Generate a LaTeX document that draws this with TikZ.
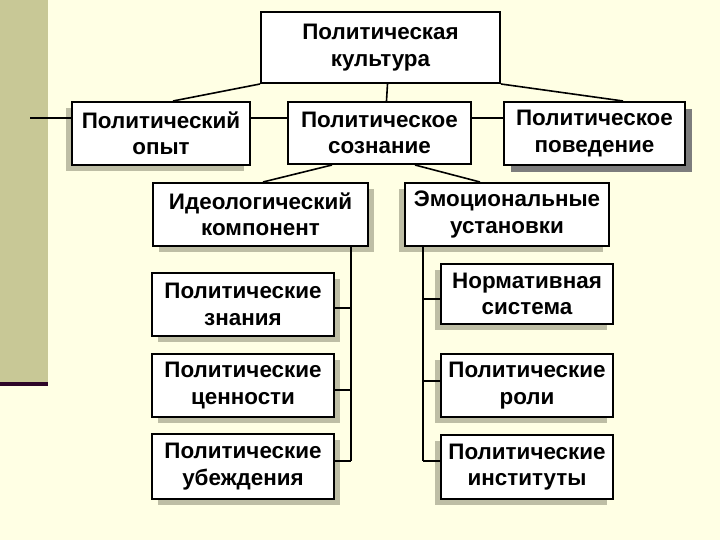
\documentclass[tikz,border=0pt]{standalone}
\usepackage{fontspec}
\setmainfont{Liberation Sans}
\usepackage{tikz}
\usetikzlibrary{shadows}
\definecolor{bgyellow}{RGB}{255,255,228}
\definecolor{stripolive}{RGB}{200,200,150}
\definecolor{barpurple}{RGB}{45,5,40}
\definecolor{shadowgrey}{RGB}{190,190,165}
\definecolor{shadowdark}{RGB}{125,125,125}
\tikzset{
  box/.style={draw=black, line width=2bp, fill=white, align=center, inner sep=0pt,
    font=\bfseries\fontsize{22.5}{26.5}\selectfont},
  shadowright/.style={drop shadow={shadow xshift=6bp, shadow yshift=-6bp, fill=shadowgrey, opacity=1}},
  shadowleft/.style={drop shadow={shadow xshift=-6bp, shadow yshift=-6bp, fill=shadowgrey, opacity=1}},
  link/.style={draw=black, line width=1.6bp},
}

\begin{document}
\begin{tikzpicture}[x=1bp,y=-1bp]
\useasboundingbox (0,0) rectangle (720,540);
\fill[bgyellow] (0,0) rectangle (720,540);
\fill[stripolive] (0,0) rectangle (48,382);
\fill[barpurple] (0,382) rectangle (48,386);

% top row
\node[box, minimum width=239bp, minimum height=71bp] (cult) at (380.5,47.5) {Политическая\\культура};
\node[box, shadowleft, minimum width=178bp, minimum height=63bp] (exp) at (161,133.5) {Политический\\опыт};
\node[box, minimum width=183bp, minimum height=62bp] (cons) at (379.5,133) {Политическое\\сознание};
\node[box, drop shadow={shadow xshift=7bp, shadow yshift=-7bp, fill=shadowdark, opacity=1},
  minimum width=181bp, minimum height=63bp] (beh) at (594.5,133.5) {Политическое\\поведение};

% second row
\node[box, shadowright, minimum width=215bp, minimum height=63bp] (ideo) at (260.5,214.5) {Идеологический\\компонент};
\node[box, shadowleft, minimum width=204bp, minimum height=63bp] (emo) at (507,214.5) {Эмоциональные\\установки};

% left column
\node[box, shadowright, minimum width=182bp, minimum height=63bp] (know) at (243,304.5) {Политические\\знания};
\node[box, shadowright, minimum width=182bp, minimum height=63bp] (val) at (243,385.5) {Политические\\ценности};
\node[box, shadowright, minimum width=182bp, minimum height=65bp] (bel) at (243,466.5) {Политические\\убеждения};

% right column
\node[box, shadowleft, minimum width=172bp, minimum height=60bp] (norm) at (527,294) {Нормативная\\система};
\node[box, shadowleft, minimum width=172bp, minimum height=63bp] (role) at (527,385.5) {Политические\\роли};
\node[box, shadowleft, minimum width=172bp, minimum height=64bp] (inst) at (527,467) {Политические\\институты};

\coordinate (hrow) at (0,118);
\coordinate (stub) at (30,118);
\coordinate (lbus) at (351,461);
\coordinate (rbus) at (423,461);

% connectors
\draw[link] (cult.south west) -- ([xshift=12bp]exp.north);
\draw[link] (cult.south east) -- ([xshift=28.5bp]beh.north);
\draw[link] ([xshift=7bp]cult.south) -- ([xshift=7bp]cons.north);
\draw[link] (stub) -- (exp.west |- hrow);
\draw[link] (exp.east |- hrow) -- (cons.west |- hrow);
\draw[link] (cons.east |- hrow) -- (beh.west |- hrow);
\draw[link] ([xshift=-47.5bp]cons.south) -- ([xshift=2.5bp]ideo.north);
\draw[link] ([xshift=35.5bp]cons.south) -- ([xshift=-27bp]emo.north);

\draw[link] (ideo.south -| lbus) -- (lbus);
\draw[link] (know.east |- 0,308) -- (lbus |- 0,308);
\draw[link] (val.east |- 0,390) -- (lbus |- 0,390);
\draw[link] (bel.east |- lbus) -- (lbus);

\draw[link] (emo.south -| rbus) -- (rbus);
\draw[link] (norm.west |- 0,299) -- (rbus |- 0,299);
\draw[link] (role.west |- 0,381) -- (rbus |- 0,381);
\draw[link] (inst.west |- rbus) -- (rbus);
\end{tikzpicture}
\end{document}
